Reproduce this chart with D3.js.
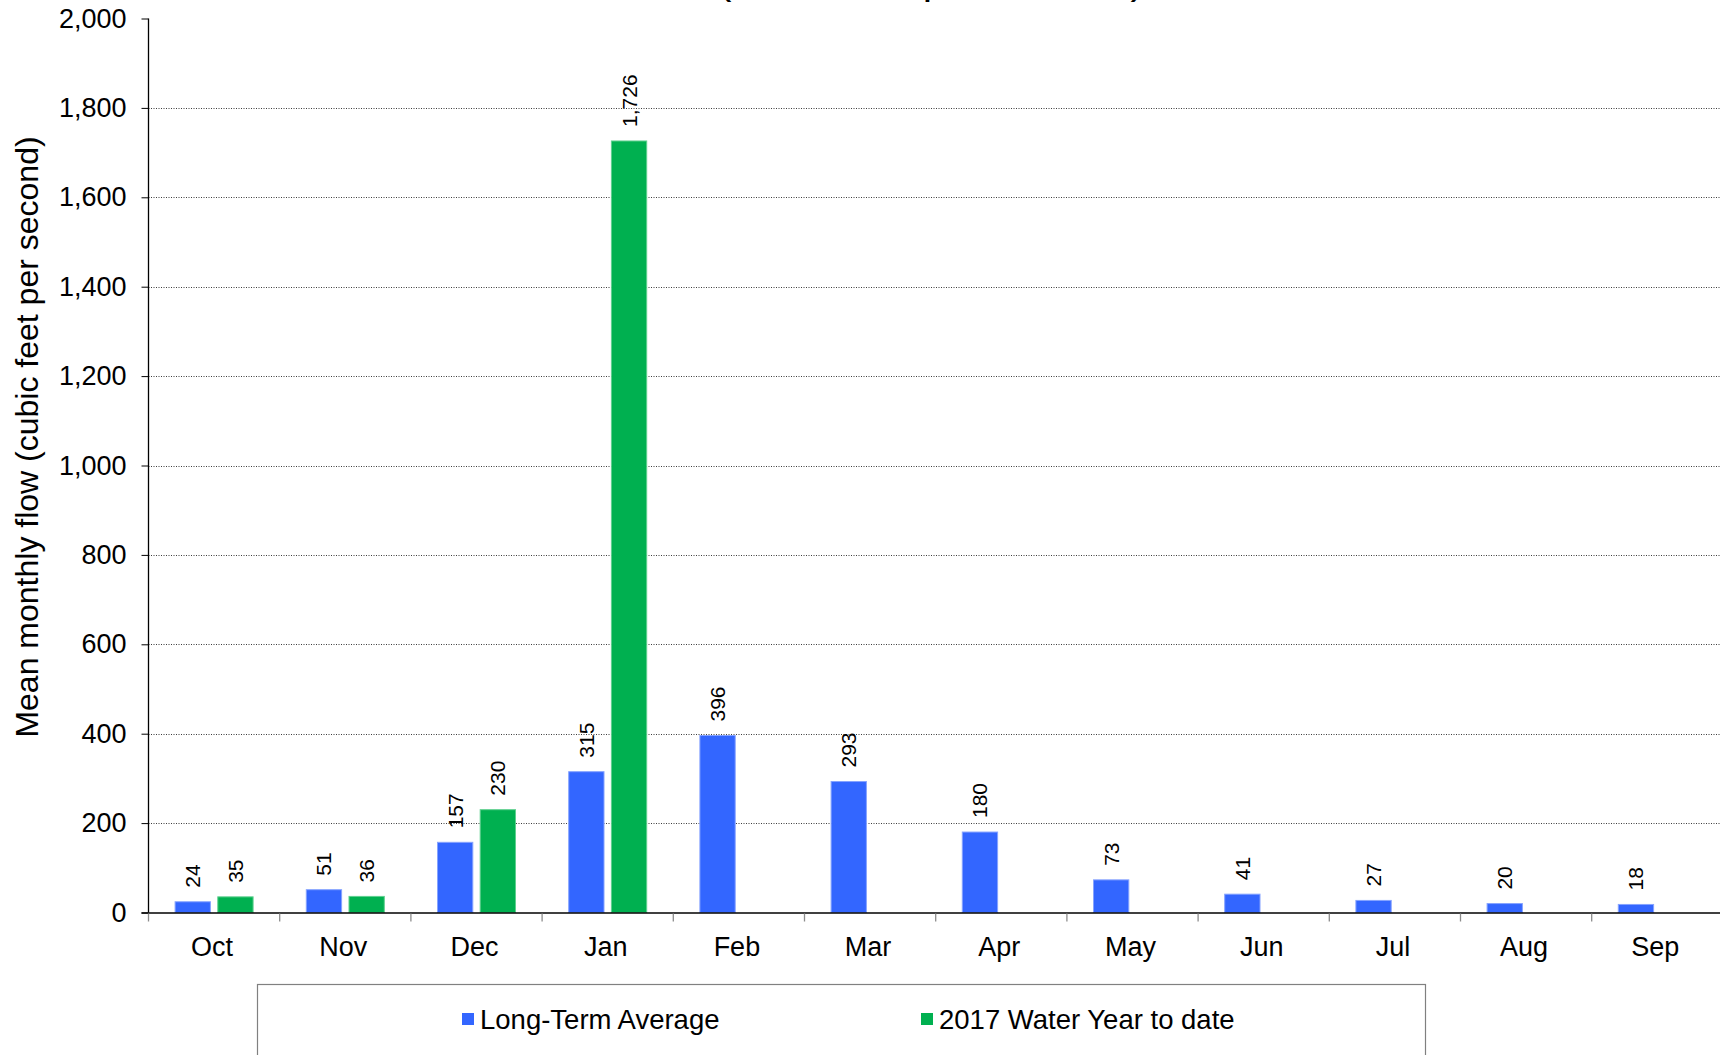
<!DOCTYPE html>
<html>
<head>
<meta charset="utf-8">
<script src="https://cdn.jsdelivr.net/npm/d3@7/dist/d3.min.js"></script>
<style>
  html, body { margin: 0; padding: 0; background: #fff; }
  svg { display: block; font-family: "Liberation Sans", Arial, Helvetica, sans-serif; }
</style>
</head>
<body>
<svg id="chart" width="1720" height="1055"></svg>
<script>
// Mean monthly flow, water-year months
const months = ["Oct", "Nov", "Dec", "Jan", "Feb", "Mar", "Apr", "May", "Jun", "Jul", "Aug", "Sep"];
const longTermAverage = [24, 51, 157, 315, 396, 293, 180, 73, 41, 27, 20, 18];
const waterYear2017 = [35, 36, 230, 1726, null, null, null, null, null, null, null, null];
const seriesNames = ["Long-Term Average", "2017 Water Year to date"];
const seriesColors = ["#3366ff", "#00b050"];
const seriesStrokes = ["#86a3ff", "#5fd08f"];
const yTicks = [0, 200, 400, 600, 800, 1000, 1200, 1400, 1600, 1800, 2000];
const titleLine = "(cubic feet per second)";
const yTitle = "Mean monthly flow (cubic feet per second)";

const svg = d3.select("#chart");
const W = 1720;
const plotLeft = 148.5, plotRight = 1722.9, plotTop = 18.5, plotBottom = 912.5;

const x0 = d3.scaleBand().domain(months).range([plotLeft, plotRight]).padding(0);
const groupWidth = 78;
const x1 = d3.scaleBand().domain(seriesNames).range([0, groupWidth]).paddingInner(0.173).paddingOuter(0);
const y = d3.scaleLinear().domain([0, 2000]).range([plotBottom, plotTop]);
const fmt = d3.format(",");

// title line, running off the top edge
svg.append("text")
  .attr("x", 931).attr("y", -7)
  .attr("text-anchor", "middle")
  .attr("font-size", 42)
  .attr("fill", "#000")
  .text(titleLine);

// dotted gridlines
svg.append("g").selectAll("line")
  .data(yTicks.filter(v => v > 0 && v < 2000))
  .join("line")
  .attr("x1", plotLeft).attr("x2", W)
  .attr("y1", d => Math.round(y(d)) + 0.5).attr("y2", d => Math.round(y(d)) + 0.5)
  .attr("stroke", "#3c3c3c").attr("stroke-width", 1)
  .attr("stroke-dasharray", "1,1.5");

// bars
const rows = months.map((m, i) => ({ month: m, values: [longTermAverage[i], waterYear2017[i]] }));
const groups = svg.append("g").selectAll("g")
  .data(rows)
  .join("g")
  .attr("transform", d => `translate(${x0(d.month) + (x0.bandwidth() - groupWidth) / 2},0)`);

const cells = groups.selectAll("g")
  .data(d => d.values.map((v, k) => ({ v, k })).filter(e => e.v != null))
  .join("g");

cells.append("rect")
  .attr("x", d => x1(seriesNames[d.k]))
  .attr("width", x1.bandwidth())
  .attr("y", d => y(d.v))
  .attr("height", d => plotBottom - y(d.v))
  .attr("fill", d => seriesColors[d.k])
  .attr("stroke", d => seriesStrokes[d.k])
  .attr("stroke-width", 1);

cells.append("text")
  .attr("transform", d => `translate(${x1(seriesNames[d.k]) + x1.bandwidth() / 2 + 7.5},${y(d.v) - 14}) rotate(-90)`)
  .attr("text-anchor", "start")
  .attr("font-size", 21)
  .attr("fill", "#000")
  .text(d => fmt(d.v));

// y axis
const yAxis = d3.axisLeft(y).tickValues(yTicks).tickSize(7).tickPadding(15).tickFormat(fmt);
const gy = svg.append("g").attr("transform", `translate(${plotLeft},0)`).call(yAxis);
gy.select(".domain").attr("stroke", "#000").attr("stroke-width", 1.3)
  .attr("d", `M0,${plotTop}V${plotBottom}`);
gy.selectAll(".tick line").attr("stroke", "#000");
gy.selectAll(".tick text").attr("font-size", 27).attr("fill", "#000")
  .attr("font-family", "Liberation Sans, Arial, sans-serif");

// x axis baseline and category boundary ticks
svg.append("line")
  .attr("x1", plotLeft - 7).attr("x2", W)
  .attr("y1", plotBottom + 0.5).attr("y2", plotBottom + 0.5)
  .attr("stroke", "#000").attr("stroke-width", 1.6);
svg.append("g").selectAll("line")
  .data(months)
  .join("line")
  .attr("x1", d => x0(d)).attr("x2", d => x0(d))
  .attr("y1", plotBottom + 1).attr("y2", plotBottom + 9)
  .attr("stroke", "#8c8c8c").attr("stroke-width", 1.3);
svg.append("g").selectAll("text")
  .data(months)
  .join("text")
  .attr("x", d => x0(d) + x0.bandwidth() / 2 - 2)
  .attr("y", 956)
  .attr("text-anchor", "middle")
  .attr("font-size", 27)
  .attr("fill", "#000")
  .text(d => d);

// y axis title
svg.append("text")
  .attr("transform", `translate(38,437) rotate(-90)`)
  .attr("text-anchor", "middle")
  .attr("font-size", 32)
  .attr("fill", "#000")
  .text(yTitle);

// legend
const legend = svg.append("g");
legend.append("rect")
  .attr("x", 257.5).attr("y", 984.5)
  .attr("width", 1168).attr("height", 120)
  .attr("fill", "#fff").attr("stroke", "#808080").attr("stroke-width", 1.2);
const legendX = [462, 921];
const items = legend.selectAll("g.item")
  .data(seriesNames)
  .join("g")
  .attr("class", "item")
  .attr("transform", (d, i) => `translate(${legendX[i]},0)`);
items.append("rect")
  .attr("x", 0).attr("y", 1013)
  .attr("width", 12).attr("height", 12)
  .attr("fill", (d, i) => seriesColors[i]);
items.append("text")
  .attr("x", 18).attr("y", 1029)
  .attr("font-size", 27.5)
  .attr("fill", "#000")
  .text(d => d);
</script>
</body>
</html>
